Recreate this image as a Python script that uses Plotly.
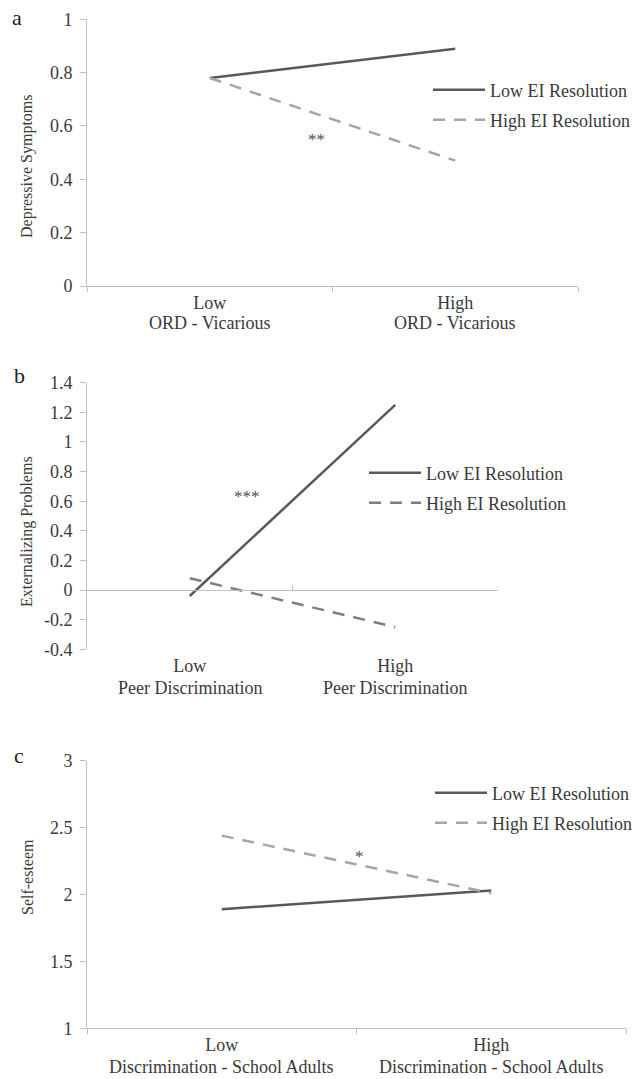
import plotly.graph_objects as go

# ---------------- data ----------------
levels = ["Low", "High"]
predictor_a = "ORD - Vicarious"
predictor_b = "Peer Discrimination"
predictor_c = "Discrimination - School Adults"
series_names = ["Low EI Resolution", "High EI Resolution"]

dep_low_ei = [0.78, 0.89]
dep_high_ei = [0.78, 0.47]
ext_low_ei = [-0.04, 1.25]
ext_high_ei = [0.08, -0.25]
se_low_ei = [1.89, 2.03]
se_high_ei = [2.44, 2.01]

yticks_a = [0, 0.2, 0.4, 0.6, 0.8, 1]
yticklabels_a = ["0", "0.2", "0.4", "0.6", "0.8", "1"]
yticks_b = [-0.4, -0.2, 0, 0.2, 0.4, 0.6, 0.8, 1, 1.2, 1.4]
yticklabels_b = ["-0.4", "-0.2", "0", "0.2", "0.4", "0.6", "0.8", "1", "1.2", "1.4"]
yticks_c = [1, 1.5, 2, 2.5, 3]
yticklabels_c = ["1", "1.5", "2", "2.5", "3"]

panel_letters = ["a", "b", "c"]
y_titles = ["Depressive Symptoms", "Externalizing Problems", "Self-esteem"]
sig_marks = ["**", "***", "*"]

# ---------------- layout helpers ----------------
W, H = 642, 1079
FONT = "Liberation Serif, Times New Roman, serif"
TXT = "#3a3a3a"
AXC = "#bfbfbf"


def xd(l, r):
    return [l / W, r / W]


def yd(top, bottom):
    return [1 - bottom / H, 1 - top / H]


def px_x(x):
    return x / W


def px_y(y):
    return 1 - y / H


dark = "#595959"
light = "#a6a6a6"
mid = "#7f7f7f"
DASH = "12px,9px"

fig = go.Figure()
panels = [
    ("x", "y", dep_low_ei, dep_high_ei, light, "legend", "legend2"),
    ("x2", "y2", ext_low_ei, ext_high_ei, mid, "legend3", "legend4"),
    ("x3", "y3", se_low_ei, se_high_ei, light, "legend5", "legend6"),
]
for xa, ya, low, high, hcol, lg1, lg2 in panels:
    fig.add_trace(go.Scatter(x=levels, y=low, mode="lines", name=series_names[0],
                             line=dict(color=dark, width=2.5), showlegend=True,
                             xaxis=xa, yaxis=ya, legend=lg1, hoverinfo="skip"))
    fig.add_trace(go.Scatter(x=levels, y=high, mode="lines", name=series_names[1],
                             line=dict(color=hcol, width=2.5, dash=DASH), showlegend=True,
                             xaxis=xa, yaxis=ya, legend=lg2, hoverinfo="skip"))

xtickfont = dict(family=FONT, size=18, color=TXT)
ytickfont = dict(family=FONT, size=18, color=TXT)


def xaxis(domain, anchor):
    return dict(domain=domain, anchor=anchor, type="category", categoryarray=levels,
                range=[-0.5, 1.5], tickson="boundaries", ticks="outside",
                ticklen=5, tickcolor=AXC, showline=True, linecolor=AXC, linewidth=1,
                showgrid=False, zeroline=False, tickfont=xtickfont, fixedrange=True)


def yaxis(domain, anchor, rng, tv, tt):
    return dict(domain=domain, anchor=anchor, range=rng, tickvals=tv, ticktext=tt,
                ticks="outside", ticklen=6, tickcolor=AXC, showline=True, linecolor=AXC,
                linewidth=1, showgrid=False, zeroline=False, tickfont=ytickfont,
                ticklabelstandoff=4, fixedrange=True)


dom_a = (xd(87, 578), yd(19.3, 286))
dom_b = (xd(87, 498), yd(382.7, 649.3))
dom_c = (xd(87, 626), yd(760.7, 1028.3))

# panel b: category axis crosses the y axis at zero, labels stay below the plot
xaxis_b = xaxis(dom_b[0], "free")
xaxis_b.update(position=px_y(590), ticks="inside", ticklabelstandoff=59)

fig.update_layout(
    width=W, height=H, margin=dict(l=0, r=0, t=0, b=0, autoexpand=False),
    paper_bgcolor="white", plot_bgcolor="white", showlegend=True,
    font=dict(family=FONT, color=TXT),
    xaxis=xaxis(dom_a[0], "y"),
    yaxis=yaxis(dom_a[1], "x", [0, 1], yticks_a, yticklabels_a),
    xaxis2=xaxis_b,
    yaxis2=yaxis(dom_b[1], "x2", [-0.4, 1.4], yticks_b, yticklabels_b),
    xaxis3=xaxis(dom_c[0], "y3"),
    yaxis3=yaxis(dom_c[1], "x3", [1, 3], yticks_c, yticklabels_c),
)

# legends (one entry each, placed like the reference)
legend_pos = {
    "legend": (490, 90), "legend2": (490, 120),
    "legend3": (426, 473), "legend4": (426, 503),
    "legend5": (492, 793), "legend6": (492, 823),
}
for name, (tx, ty) in legend_pos.items():
    fig.update_layout({name: dict(x=px_x(tx - 62), y=px_y(ty), xanchor="left", yanchor="middle",
                                  bgcolor="rgba(0,0,0,0)", borderwidth=0, itemwidth=52,
                                  font=dict(family=FONT, size=18, color=TXT))})

annotations = []
# second line of the category labels (predictor names)
name_rows = [("x", predictor_a, 323), ("x2", predictor_b, 688), ("x3", predictor_c, 1067)]
for xr, pred, py in name_rows:
    for lv in levels:
        annotations.append(dict(text=pred, x=lv, xref=xr, y=px_y(py), yref="paper",
                                showarrow=False, xanchor="center", yanchor="middle",
                                font=xtickfont))
letter_pos = [(17, 18), (19, 375), (19, 755)]
for letter, (lx, ly) in zip(panel_letters, letter_pos):
    annotations.append(dict(text=letter, x=px_x(lx), y=px_y(ly), xref="paper", yref="paper",
                            showarrow=False, xanchor="center", yanchor="middle",
                            font=dict(family=FONT, size=22, color="#222222")))
title_pos = [(27, 166), (27, 532), (27, 877)]
for t, (tx, ty) in zip(y_titles, title_pos):
    annotations.append(dict(text=t, x=px_x(tx), y=px_y(ty), xref="paper", yref="paper",
                            showarrow=False, textangle=-90, xanchor="center", yanchor="middle",
                            font=dict(family=FONT, size=16, color=TXT)))
sig_pos = [(316, 139), (247, 497), (360, 856)]
for s, (sx, sy) in zip(sig_marks, sig_pos):
    annotations.append(dict(text=s, x=px_x(sx), y=px_y(sy), xref="paper", yref="paper",
                            showarrow=False, xanchor="center", yanchor="middle",
                            font=dict(family=FONT, size=17, color="#4d4d4d")))
fig.update_layout(annotations=annotations)

fig.write_html("out.html")
